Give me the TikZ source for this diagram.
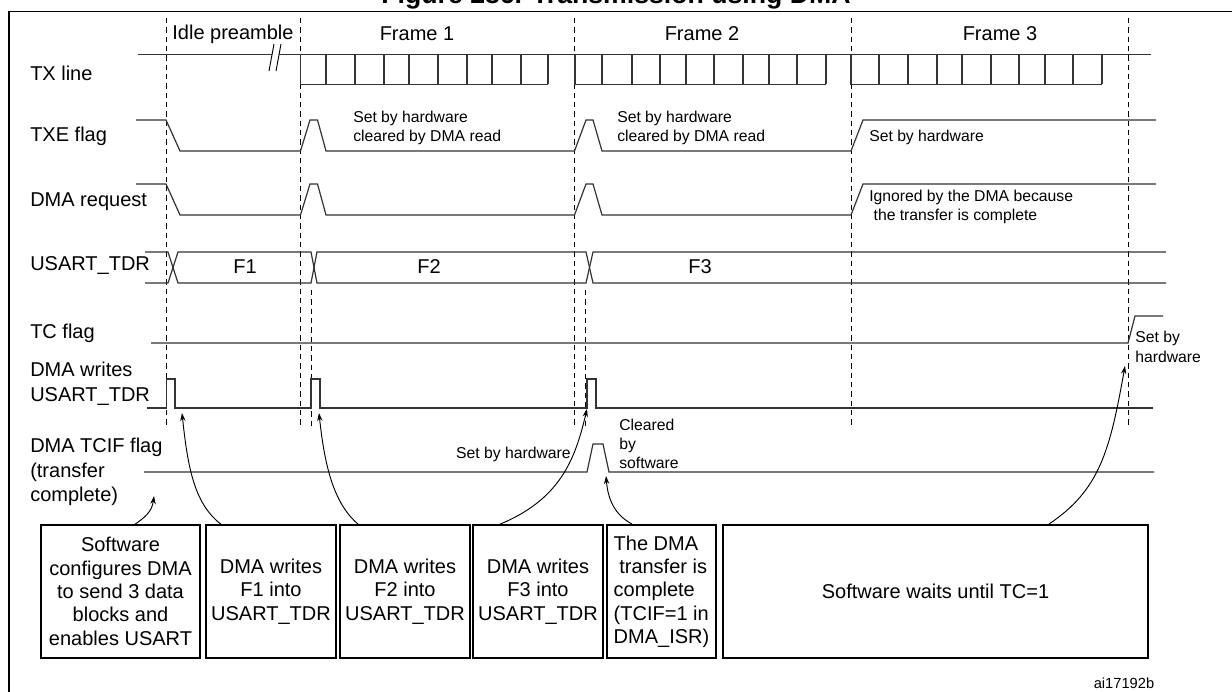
\documentclass[tikz,border=0pt]{standalone}
\usepackage{fontspec}
\setmainfont{Liberation Sans}
\usetikzlibrary{arrows.meta}
\begin{document}
\begin{tikzpicture}[x=0.75pt,y=-0.75pt,
  sig/.style={line width=0.9pt,black!80},
  dsh/.style={dash pattern=on 4pt off 3pt,line width=0.7pt},
  lab/.style={anchor=west,inner sep=0,font=\fontsize{15}{18.5}\selectfont,align=left},
  sm/.style={inner sep=0,font=\fontsize{11.8}{14.5}\selectfont,align=left},
  big/.style={inner sep=0,font=\fontsize{15}{18}\selectfont},
  box/.style={draw,line width=0.9pt,inner sep=0,align=center,font=\fontsize{15}{17.5}\selectfont},
  arr/.style={-{Stealth[length=6pt,width=4pt]},line width=0.7pt}]
\useasboundingbox (0,0) rectangle (1232,692);
\node[anchor=south,inner sep=0,font=\fontsize{20}{24}\bfseries] (title) at (616,9) {Figure 286. Transmission using DMA};
\draw[line width=1.2pt] (8.7,11.7) rectangle (1245,705);
% dashed
\foreach \x in {166,300.5,574.5,851,1128} \draw[dsh] (\x,18) -- (\x,428);
\foreach \x in {311,585} \draw[dsh] (\x,290) -- (\x,428);
% headings
\node[big] (ip) at (233,34) {Idle preamble};
\node[big] (f1) at (417,34) {Frame 1};
\node[big] (f2) at (702,34) {Frame 2};
\node[big] (f3) at (1000,34) {Frame 3};
% labels
\node[lab] (l1) at (30,73) {TX line};
\node[lab] (l2) at (30,136) {TXE flag};
\node[lab] (l3) at (30,202) {DMA request};
\node[lab] (l4) at (30,266) {USART\_TDR};
\node[lab] (l5) at (30,333) {TC flag};
\node[lab] (l6) at (30,384) {DMA writes\\USART\_TDR};
\node[lab] (l7) at (30,472) {DMA TCIF flag\\(transfer\\complete)};
% TX line
\draw[sig] (138,54.3) -- (300.5,54.3) -- (300.5,84.3) -- (548,84.3);
\draw[sig] (300.5,54.3) -- (575,54.3) -- (575,84.3) -- (826,84.3);
\draw[sig] (575,54.3) -- (851,54.3) -- (851,84.3) -- (1102,84.3);
\draw[sig] (851,54.3) -- (1151,54.3);
\foreach \x in {326,355,384,409,438,467,492,521,548,602,632,660,686,714,743,769,797,826,879,908,937,962,991,1019,1045,1073,1102}
  \draw[sig] (\x,54.3) -- (\x,84.3);
\fill[white] (274,44) -- (281,44) -- (276,71) -- (269,71) -- cycle;
\draw[line width=0.7pt] (274,44) -- (269,71) (281,44) -- (276,71);
% TXE
\draw[sig] (136,120) -- (166,120) -- (180,151) -- (300.5,151) -- (310,120) -- (317.5,120) -- (326,151) -- (574.5,151) -- (586,120) -- (593,120) -- (602,151) -- (851,151) -- (863,120) -- (1156,120);
\node[sm,anchor=west] (t1) at (353,128) {Set by hardware\\cleared by DMA read};
\node[sm,anchor=west] (t2) at (617,128) {Set by hardware\\cleared by DMA read};
\node[sm,anchor=west] (t3) at (869,137) {Set by hardware};
% DMA request
\draw[sig] (136,184) -- (166,184) -- (180,215) -- (300.5,215) -- (310,184) -- (317.5,184) -- (326,215) -- (574.5,215) -- (586,184) -- (593,184) -- (602,215) -- (851,215) -- (863,184) -- (1156,184);
\node[sm,anchor=west] (t4) at (869,207) {Ignored by the DMA because\\\ the transfer is complete};
% USART_TDR
\draw[sig] (145,252) -- (168,252) -- (178,283) -- (311,283) -- (317,252) -- (586,252) -- (593,283) -- (1166,283);
\draw[sig] (145,283) -- (168,283) -- (178,252) -- (311,252) -- (317,283) -- (586,283) -- (593,252) -- (1166,252);
\node[big] (F1) at (245,267) {F1};
\node[big] (F2) at (429,267) {F2};
\node[big] (F3) at (700,267) {F3};
% TC
\draw[sig] (151,343) -- (1128,343) -- (1135,316) -- (1163,316);
\node[sm,anchor=west] (t5) at (1135,347) {Set by\\hardware};
% DMA writes
\draw[sig] (147,408) -- (166.5,408) -- (166.5,379) -- (175,379) -- (175,408) -- (311,408) -- (311,379) -- (320,379) -- (320,408) -- (587,408) -- (587,379) -- (596,379) -- (596,408) -- (1153,408);
% TCIF
\draw[sig] (144,472) -- (587,472) -- (593,444) -- (603,444) -- (609,472) -- (1154,472);
\node[sm,anchor=east] (t6) at (571,454) {Set by hardware};
\node[sm,anchor=west] (t7) at (619,444) {Cleared\\by\\software};
% boxes
\node[box,minimum width=159pt*0.75,minimum height=133*0.75pt] (b1) at (120.5,591.5) {Software\\configures DMA\\to send 3 data\\blocks and\\enables USART};
\node[box,minimum width=130*0.75pt,minimum height=133*0.75pt] (b2) at (271,591.5) {DMA writes\\F1 into\\USART\_TDR};
\node[box,minimum width=130*0.75pt,minimum height=133*0.75pt] (b3) at (405,591.5) {DMA writes\\F2 into\\USART\_TDR};
\node[box,minimum width=130*0.75pt,minimum height=133*0.75pt] (b4) at (538,591.5) {DMA writes\\F3 into\\USART\_TDR};
\node[box,minimum width=109*0.75pt,minimum height=133*0.75pt,align=left] (b5) at (661.5,591.5) {The DMA\\\ transfer is\\complete\\(TCIF=1 in\\DMA\_ISR)};
\node[box,minimum width=425*0.75pt,minimum height=133*0.75pt] (b6) at (935.5,591.5) {Software waits until TC=1};
\node[sm,font=\fontsize{11}{13}\selectfont] (id) at (1124,683) {ai17192b};
% arrows
\coordinate (a1) at (154,496);
\coordinate (a2) at (182,413);
\coordinate (a3) at (319,413);
\coordinate (a4) at (587,409);
\coordinate (a5) at (606,476);
\coordinate (a6) at (1125,366);
\draw[arr] (134,525) .. controls (144,518) and (152,512) .. (a1);
\draw[arr] (222,525) .. controls (195,505) and (188,470) .. (a2);
\draw[arr] (359,525) .. controls (335,505) and (325,470) .. (a3);
\draw[arr] (498,525) .. controls (560,500) and (575,460) .. (a4);
\draw[arr] (632,524) .. controls (615,515) and (608,500) .. (a5);
\draw[arr] (1049,524) .. controls (1100,490) and (1110,450) .. (a6);
\end{tikzpicture}
\end{document}
